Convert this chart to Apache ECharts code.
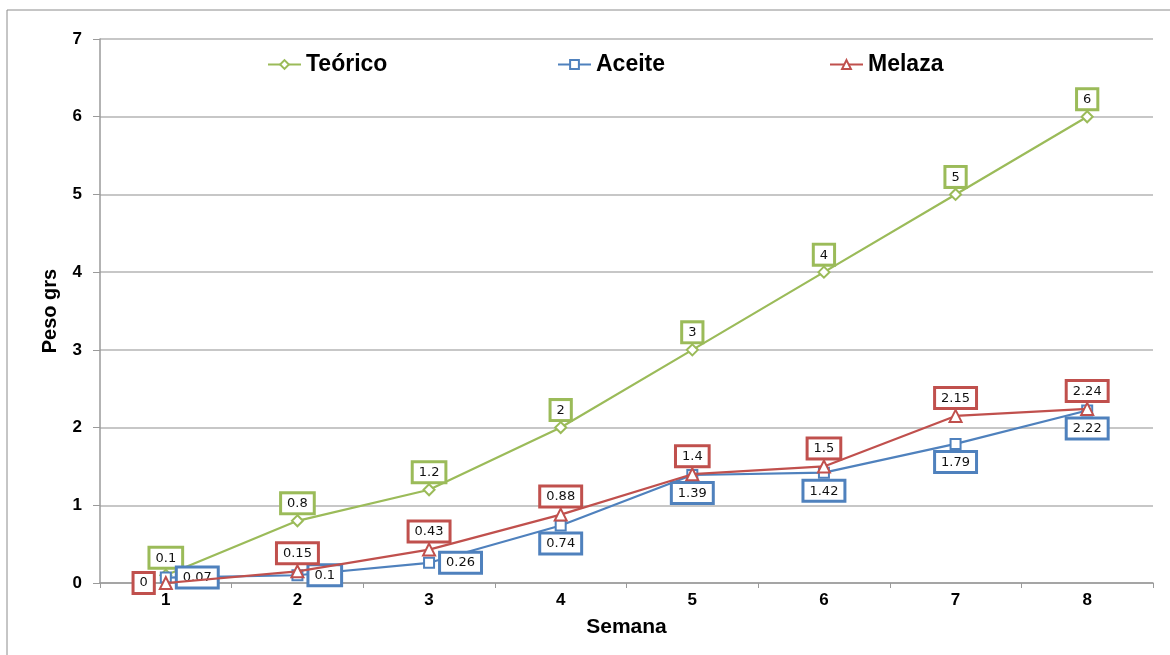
<!DOCTYPE html>
<html>
<head>
<meta charset="utf-8">
<style>
  html, body { margin: 0; padding: 0; background: #fff; }
  #chart { width: 1170px; height: 655px; }
</style>
<script src="https://cdn.jsdelivr.net/npm/echarts@6/dist/echarts.min.js"></script>
</head>
<body>
<div id="chart"></div>
<script>
// Weekly weight (grams) per feeding treatment
const semanas = ['1', '2', '3', '4', '5', '6', '7', '8'];
const teorico = [0.1, 0.8, 1.2, 2, 3, 4, 5, 6];
const aceite = [0.07, 0.1, 0.26, 0.74, 1.39, 1.42, 1.79, 2.22];
const melaza = [0, 0.15, 0.43, 0.88, 1.4, 1.5, 2.15, 2.24];
const yTicks = [0, 1, 2, 3, 4, 5, 6, 7];

// Where each value label sits relative to its point
const teoricoPos = ['top', 'top', 'top', 'top', 'top', 'top', 'top', 'top'];
const aceitePos = ['right', 'right', 'right', 'bottom', 'bottom', 'bottom', 'bottom', 'bottom'];
const melazaPos = ['left', 'top', 'top', 'top', 'top', 'top', 'top', 'top'];

const GREEN = '#9BBB59', BLUE = '#4F81BD', RED = '#C0504D';
const axisFont = 'Liberation Sans, Arial, sans-serif';
const labelFont = 'DejaVu Sans, Verdana, sans-serif';
const labelGap = { top: 2, bottom: 3, left: 6, right: 6 };

function boxLabel(color, position) {
  return {
    show: true,
    position: position,
    distance: labelGap[position],
    color: '#111',
    fontFamily: labelFont,
    fontSize: 13,
    backgroundColor: '#fff',
    borderColor: color,
    borderWidth: 3,
    padding: [3, 5, 2, 5],
    formatter: p => String(p.value)
  };
}

function pointData(values, color, positions) {
  return values.map((v, i) => ({
    value: v,
    label: boxLabel(color, positions[i])
  }));
}

function legendAt(name, left) {
  return {
    top: 48,
    left: left,
    itemWidth: 33,
    itemHeight: 11,
    itemGap: 0,
    textStyle: { fontFamily: axisFont, fontSize: 23, fontWeight: 'bold', color: '#000' },
    data: [name]
  };
}

const chart = echarts.init(document.getElementById('chart'));
chart.setOption({
  animation: false,
  backgroundColor: '#fff',
  graphic: [{
    type: 'rect',
    shape: { x: 7, y: 10, width: 1200, height: 700 },
    style: { fill: 'none', stroke: '#8c8c8c', lineWidth: 1 },
    z: -1
  }],
  grid: { left: 100, right: 17, top: 39, bottom: 72 },
  legend: [
    legendAt('Teórico', 262),
    legendAt('Aceite', 552),
    legendAt('Melaza', 824)
  ],
  xAxis: {
    type: 'category',
    data: semanas,
    boundaryGap: true,
    name: 'Semana',
    nameLocation: 'middle',
    nameGap: 34,
    nameTextStyle: { fontFamily: axisFont, fontSize: 21, fontWeight: 'bold', color: '#000' },
    axisLine: { lineStyle: { color: '#9a9a9a', width: 1.5 } },
    axisTick: { show: true, length: 5, lineStyle: { color: '#9a9a9a' } },
    axisLabel: { fontFamily: axisFont, fontSize: 17, fontWeight: 'bold', color: '#000', margin: 9 }
  },
  yAxis: {
    type: 'value',
    min: 0,
    max: 7,
    interval: 1,
    name: 'Peso grs',
    nameLocation: 'middle',
    nameGap: 40,
    nameTextStyle: { fontFamily: axisFont, fontSize: 20, fontWeight: 'bold', color: '#000' },
    axisLine: { show: true, lineStyle: { color: '#9a9a9a', width: 1.5 } },
    axisTick: { show: true, inside: false, length: 7, lineStyle: { color: '#9a9a9a' } },
    splitLine: { lineStyle: { color: '#b4b4b4', width: 1.5 } },
    axisLabel: {
      fontFamily: axisFont, fontSize: 17, fontWeight: 'bold', color: '#000', margin: 18,
      formatter: v => yTicks.includes(v) ? String(v) : ''
    }
  },
  series: [
    {
      name: 'Teórico',
      type: 'line',
      data: pointData(teorico, GREEN, teoricoPos),
      symbol: 'diamond',
      symbolSize: 11,
      itemStyle: { color: '#fff', borderColor: GREEN, borderWidth: 2 },
      lineStyle: { color: GREEN, width: 2.2 },
      z: 3
    },
    {
      name: 'Aceite',
      type: 'line',
      data: pointData(aceite, BLUE, aceitePos),
      symbol: 'rect',
      symbolSize: 10,
      itemStyle: { color: '#fff', borderColor: BLUE, borderWidth: 2 },
      lineStyle: { color: BLUE, width: 2.2 },
      z: 4
    },
    {
      name: 'Melaza',
      type: 'line',
      data: pointData(melaza, RED, melazaPos),
      symbol: 'triangle',
      symbolSize: 12,
      itemStyle: { color: '#fff', borderColor: RED, borderWidth: 2 },
      lineStyle: { color: RED, width: 2.2 },
      z: 5
    }
  ]
});
</script>
</body>
</html>
